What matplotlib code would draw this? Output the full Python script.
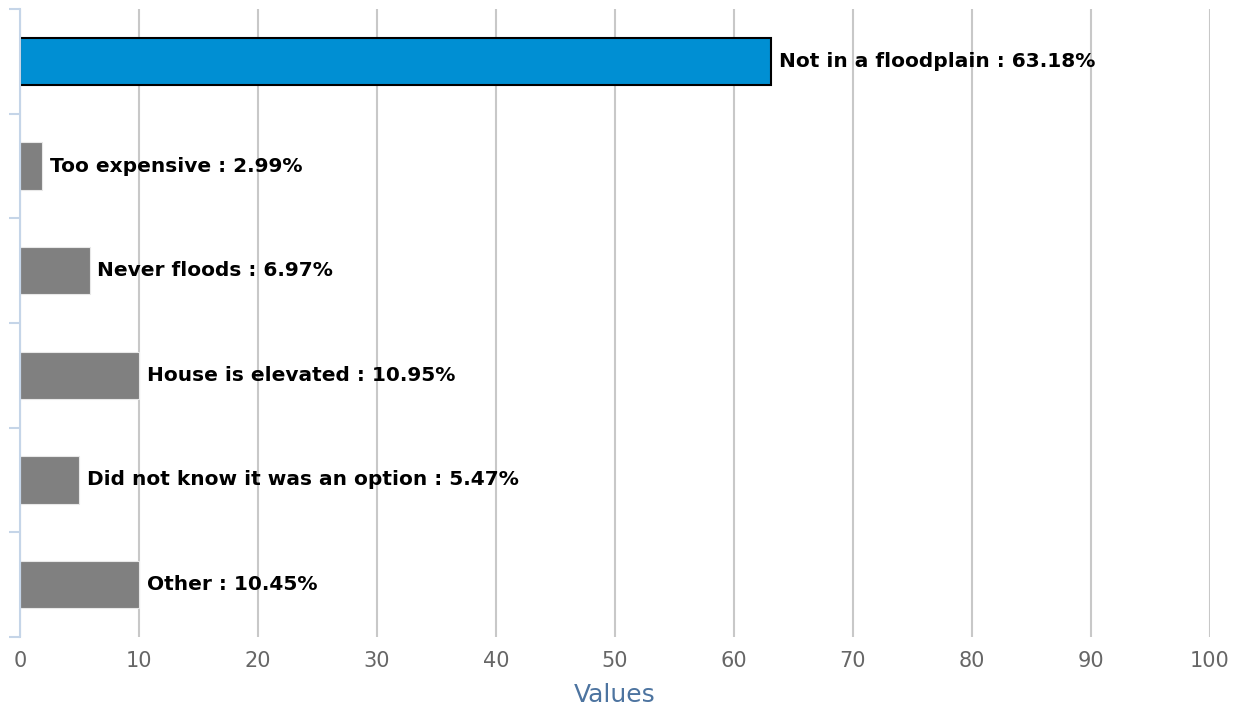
import matplotlib
matplotlib.use("Agg")
import matplotlib.pyplot as plt
import numpy as np

categories = [
    "Not in a floodplain",
    "Too expensive",
    "Never floods",
    "House is elevated",
    "Did not know it was an option",
    "Other",
]
bar_values = [63.1, 1.85, 5.85, 10.0, 4.95, 10.0]
pct_labels = ["63.18%", "2.99%", "6.97%", "10.95%", "5.47%", "10.45%"]
x_ticks = list(range(0, 101, 10))

BLUE = "#008fd3"
GREY = "#808080"

fig = plt.figure(figsize=(12.42, 7.11), dpi=100)
ax = fig.add_axes([0.0161, 0.1041, 0.9581, 0.8832])

y = np.arange(len(categories))
colors = [BLUE] + [GREY] * (len(categories) - 1)
bars = ax.barh(y, bar_values, height=0.45, color=colors, zorder=3)
bars[0].set_edgecolor("black")
bars[0].set_linewidth(1.5)
for b in bars[1:]:
    b.set_edgecolor("#e8e8e8")
    b.set_linewidth(0.8)

for yi, v, cat, p in zip(y, bar_values, categories, pct_labels):
    ax.text(v + 0.65, yi, f"{cat} : {p}", va="center", ha="left",
            fontsize=14.5, fontweight="bold", color="black", zorder=4)

ax.set_xlim(0, 100)
ax.set_ylim(len(categories) - 0.5, -0.5)
ax.set_xticks(x_ticks)
ax.set_xticklabels([str(t) for t in x_ticks], fontsize=15, color="#666666")
ax.tick_params(axis="x", length=0, pad=10)
ax.set_yticks(np.arange(-0.5, len(categories), 1.0))
ax.set_yticklabels([])
ax.tick_params(axis="y", length=8, width=1.5, color="#c5d5e8")

ax.grid(axis="x", color="#c8c8c8", linewidth=1.5, zorder=0)
ax.set_axisbelow(True)
for s in ["top", "right", "bottom"]:
    ax.spines[s].set_visible(False)
ax.spines["left"].set_color("#c5d5e8")
ax.spines["left"].set_linewidth(1.5)
ax.spines["left"].set_zorder(5)

ax.set_xlabel("Values", fontsize=18, color="#4d74a0", labelpad=9)

fig.savefig("out.png", dpi=100)
